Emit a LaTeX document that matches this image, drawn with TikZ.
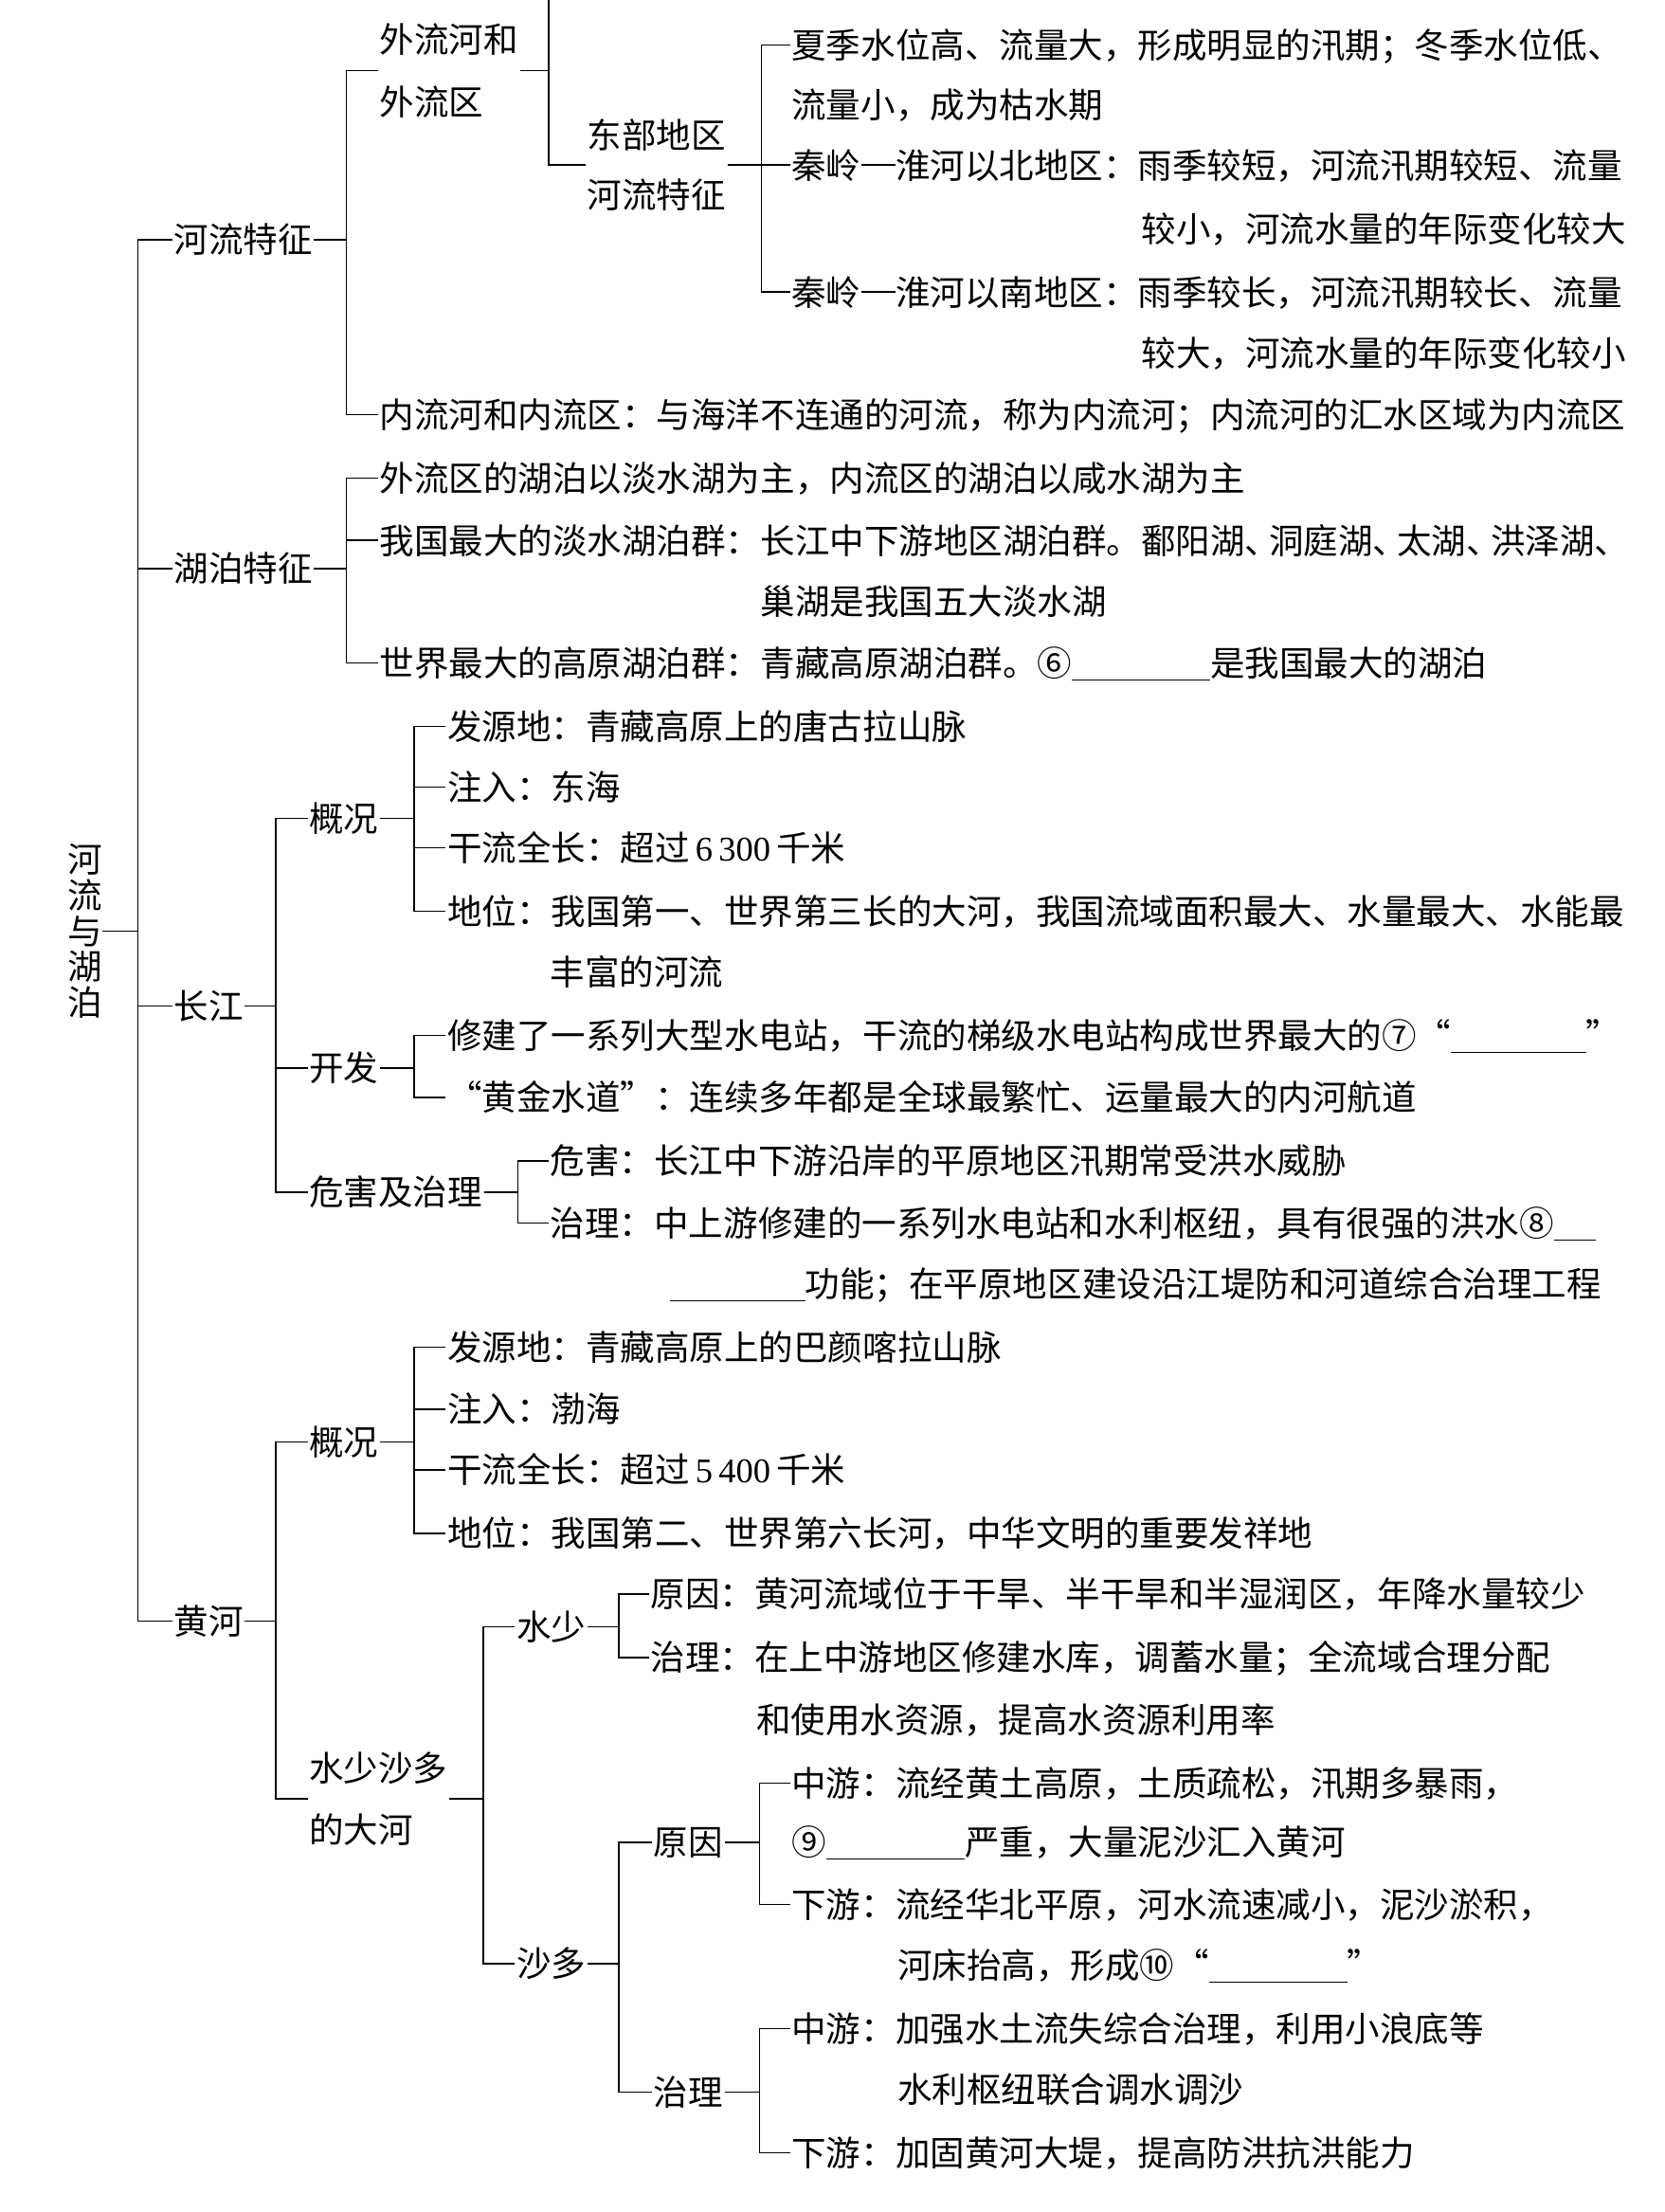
\documentclass[tikz,border=0pt]{standalone}
\usepackage{fontspec}
\setmainfont{Noto Sans CJK SC}
\newfontfamily\numfont{Liberation Serif}
\XeTeXlinebreaklocale "zh"
\XeTeXlinebreakskip=0pt plus 2pt minus 2pt
\newcommand{\fillblank}[1]{\rule[-0.12em]{#1}{0.6pt}}
\newcommand{\justline}[2]{\makebox[#1][s]{#2}}
\newcommand{\halfdun}{\makebox[0.7em][l]{、}}
\newcommand{\cdash}{\makebox[1em]{\rule[0.36em]{0.98em}{0.85pt}}}

\begin{document}
\begin{tikzpicture}[
  x=0.75pt, y=-0.75pt,
  font=\fontsize{18.4pt}{33pt}\selectfont,
  line width=0.7pt,
  item/.style={anchor=west, inner xsep=0.6pt, inner ysep=0pt, text height=16.2pt, text depth=2.2pt},
  pair/.style={anchor=west, align=left, inner xsep=0.6pt, inner ysep=0pt},
]
\useasboundingbox (0,0) rectangle (1180,1568);

% root and first level
\node[align=center, inner sep=0pt, font=\fontsize{18.4pt}{19.1pt}\selectfont] (root) at (60,660) {河\\流\\与\\湖\\泊};
\node[item] (river) at (122,170)  {河流特征};
\node[item] (lake)  at (122,403)  {湖泊特征};
\node[item] (cj)    at (122,713)  {长江};
\node[item] (hh)    at (122,1149) {黄河};

% river features
\node[pair] (wl) at (268,50) {外流河和\\外流区};
\node[pair, font=\fontsize{18.4pt}{31.5pt}\selectfont] (east) at (415,117) {东部地区\\河流特征};
\node[item] (xj)   at (560,32)  {\justline{438.75pt}{夏季水位高、流量大，形成明显的汛期；冬季水位低、}};
\node[item] (xj2)  at (560,74)  {流量小，成为枯水期};
\node[item] (qlb)  at (560,117) {\justline{441pt}{秦岭\cdash 淮河以北地区：雨季较短，河流汛期较短、流量}};
\node[item] (qlb2) at (808,162) {\justline{255pt}{较小，河流水量的年际变化较大}};
\node[item] (qln)  at (560,207) {\justline{441pt}{秦岭\cdash 淮河以南地区：雨季较长，河流汛期较长、流量}};
\node[item] (qln2) at (808,250) {\justline{255pt}{较大，河流水量的年际变化较小}};
\node[item] (nl)   at (268,294) {\justline{660pt}{内流河和内流区：与海洋不连通的河流，称为内流河；内流河的汇水区域为内流区}};

% lake features
\node[item] (hb1)  at (268,339) {外流区的湖泊以淡水湖为主，内流区的湖泊以咸水湖为主};
\node[item] (hb2)  at (268,383) {\justline{661.5pt}{我国最大的淡水湖泊群：长江中下游地区湖泊群。鄱阳湖\halfdun 洞庭湖\halfdun 太湖\halfdun 洪泽湖\halfdun}};
\node[item] (hb2b) at (538,426) {巢湖是我国五大淡水湖};
\node[item] (hb3)  at (268,470) {世界最大的高原湖泊群：青藏高原湖泊群。⑥\fillblank{4em}是我国最大的湖泊};

% Changjiang
\node[item] (cjgk) at (218,580) {概况};
\node[item] (cjkf) at (218,757) {开发};
\node[item] (cjwh) at (218,845) {危害及治理};
\node[item] (cj1)  at (316,515) {发源地：青藏高原上的唐古拉山脉};
\node[item] (cj2)  at (316,558) {注入：东海};
\node[item] (cj3)  at (316,601) {干流全长：超过\,{\numfont 6\,300}\,千米};
\node[item] (cj4)  at (316,646) {\justline{624pt}{地位：我国第一、世界第三长的大河，我国流域面积最大、水量最大、水能最}};
\node[item] (cj4b) at (389,689) {丰富的河流};
\node[item] (kf1)  at (316,734) {\justline{618pt}{修建了一系列大型水电站，干流的梯级水电站构成世界最大的⑦“\fillblank{3.9em}”}};
\node[item] (kf2)  at (316,778) {“黄金水道”：连续多年都是全球最繁忙、运量最大的内河航道};
\node[item] (wh1)  at (389,823) {危害：长江中下游沿岸的平原地区汛期常受洪水威胁};
\node[item] (wh2)  at (389,867) {\justline{555.75pt}{治理：中上游修建的一系列水电站和水利枢纽，具有很强的洪水⑧\fillblank{1.2em}}};
\node[item] (wh3)  at (474,910) {\justline{495.75pt}{\fillblank{3.9em}功能；在平原地区建设沿江堤防和河道综合治理工程}};

% Huanghe
\node[item] (hhgk) at (218,1022) {概况};
\node[pair] (hhss) at (218,1275) {水少沙多\\的大河};
\node[item] (hh1)  at (316,955)  {发源地：青藏高原上的巴颜喀拉山脉};
\node[item] (hh2)  at (316,999)  {注入：渤海};
\node[item] (hh3)  at (316,1042) {干流全长：超过\,{\numfont 5\,400}\,千米};
\node[item] (hh4)  at (316,1087) {地位：我国第二、世界第六长河，中华文明的重要发祥地};
\node[item] (ss)   at (365,1153) {水少};
\node[item] (sd)   at (365,1392) {沙多};
\node[item] (ss1)  at (460,1130) {原因：黄河流域位于干旱、半干旱和半湿润区，年降水量较少};
\node[item] (ss2)  at (460,1175) {治理：在上中游地区修建水库，调蓄水量；全流域合理分配};
\node[item] (ss2b) at (535,1219) {和使用水资源，提高水资源利用率};
\node[item] (yy)   at (462,1306) {原因};
\node[item] (zl)   at (462,1483) {治理};
\node[item] (yy1)  at (560,1264) {中游：流经黄土高原，土质疏松，汛期多暴雨，};
\node[item] (yy1b) at (560,1306) {⑨\fillblank{4em}严重，大量泥沙汇入黄河};
\node[item] (yy2)  at (560,1350) {下游：流经华北平原，河水流速减小，泥沙淤积，};
\node[item] (yy2b) at (635,1393) {河床抬高，形成⑩“\fillblank{4em}”};
\node[item] (zl1)  at (560,1438) {中游：加强水土流失综合治理，利用小浪底等};
\node[item] (zl1b) at (635,1481) {水利枢纽联合调水调沙};
\node[item] (zl2)  at (560,1526) {下游：加固黄河大堤，提高防洪抗洪能力};

% bracket lines
\foreach \c in {river,lake,cj,hh} \draw (root.east) -- ++(25,0) |- (\c.west);
\foreach \c in {wl,nl} \draw (river.east) -- ++(23,0) |- (\c.west);
\coordinate (top) at (389,0);
\draw (top) |- (east.west);
\draw (wl.east) -- (wl.east -| top);
\foreach \c in {xj,qlb,qln} \draw (east.east) -- ++(24,0) |- (\c.west);
\foreach \c in {hb1,hb2,hb3} \draw (lake.east) -- ++(23,0) |- (\c.west);
\foreach \c in {cjgk,cjkf,cjwh} \draw (cj.east) -- ++(22,0) |- (\c.west);
\foreach \c in {cj1,cj2,cj3,cj4} \draw (cjgk.east) -- ++(24,0) |- (\c.west);
\foreach \c in {kf1,kf2} \draw (cjkf.east) -- ++(24,0) |- (\c.west);
\foreach \c in {wh1,wh2} \draw (cjwh.east) -- ++(24,0) |- (\c.west);
\foreach \c in {hhgk,hhss} \draw (hh.east) -- ++(22,0) |- (\c.west);
\foreach \c in {hh1,hh2,hh3,hh4} \draw (hhgk.east) -- ++(24,0) |- (\c.west);
\foreach \c in {ss,sd} \draw (hhss.east) -- ++(24,0) |- (\c.west);
\foreach \c in {ss1,ss2} \draw (ss.east) -- ++(22,0) |- (\c.west);
\foreach \c in {yy,zl} \draw (sd.east) -- ++(22,0) |- (\c.west);
\foreach \c in {yy1,yy2} \draw (yy.east) -- ++(25,0) |- (\c.west);
\foreach \c in {zl1,zl2} \draw (zl.east) -- ++(25,0) |- (\c.west);
\end{tikzpicture}
\end{document}
